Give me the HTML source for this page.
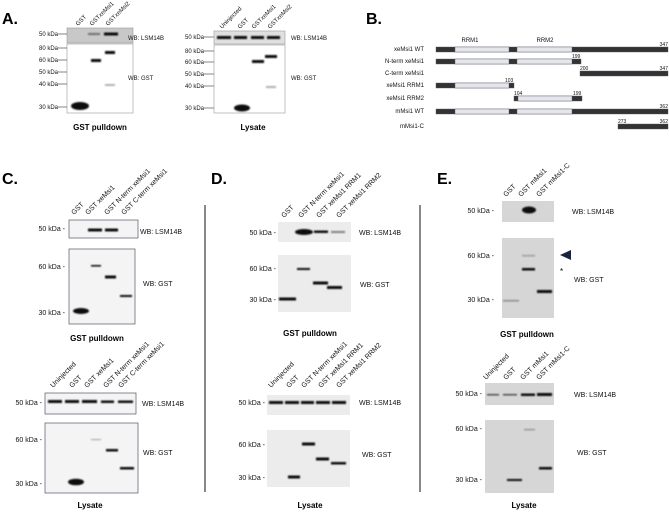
<!DOCTYPE html>
<html><head><meta charset="utf-8"><style>
html,body{margin:0;padding:0;background:#fff;}
svg{display:block;font-family:"Liberation Sans",Arial,sans-serif;}
.t{font-size:7px;fill:#111;}
.s{font-size:6px;fill:#111;}
.r{font-size:7px;fill:#111;}
.h{font-size:16px;font-weight:bold;fill:#000;}
.b{font-size:8px;font-weight:bold;fill:#000;}
.n{font-size:5px;fill:#111;}
</style></head><body>
<svg width="669" height="514" viewBox="0 0 669 514" xmlns="http://www.w3.org/2000/svg">
<defs><filter id="bl" x="-30%" y="-100%" width="160%" height="300%"><feGaussianBlur stdDeviation="0.7"/></filter></defs>

<!-- A -->
<text class="h" x="2" y="24">A.</text>
<g class="s">
<text transform="translate(78,26) rotate(-45)">GST</text>
<text transform="translate(92,26) rotate(-45)">GSTxeMsi1</text>
<text transform="translate(108,26) rotate(-45)">GSTxeMsi2</text>
<text transform="translate(222,29) rotate(-45)">Uninjected</text>
<text transform="translate(240,29) rotate(-45)">GST</text>
<text transform="translate(254,29) rotate(-45)">GSTxeMsi1</text>
<text transform="translate(270,29) rotate(-45)">GSTxeMsi2</text>
</g>
<rect x="67" y="28" width="66" height="15" fill="#c8c8c8" stroke="#999" stroke-width="0.6"/>
<rect x="67" y="44" width="66" height="69" fill="#fff" stroke="#999" stroke-width="0.6"/>
<g class="s" text-anchor="end">
<text x="58" y="36">50 kDa</text><text x="58" y="50">80 kDa</text><text x="58" y="62">60 kDa</text><text x="58" y="74">50 kDa</text><text x="58" y="86">40 kDa</text><text x="58" y="109">30 kDa</text>
<text x="204" y="39">50 kDa</text><text x="204" y="53">80 kDa</text><text x="204" y="64">60 kDa</text><text x="204" y="76">50 kDa</text><text x="204" y="88">40 kDa</text><text x="204" y="110">30 kDa</text>
</g>
<g stroke="#333" stroke-width="0.6">
<line x1="58" y1="34" x2="67" y2="34"/><line x1="58" y1="48" x2="67" y2="48"/><line x1="58" y1="60" x2="67" y2="60"/><line x1="58" y1="72" x2="67" y2="72"/><line x1="58" y1="84" x2="67" y2="84"/><line x1="58" y1="107" x2="67" y2="107"/>
<line x1="204" y1="37" x2="214" y2="37"/><line x1="204" y1="51" x2="214" y2="51"/><line x1="204" y1="62" x2="214" y2="62"/><line x1="204" y1="74" x2="214" y2="74"/><line x1="204" y1="86" x2="214" y2="86"/><line x1="204" y1="108" x2="214" y2="108"/>
</g>
<g fill="#111" filter="url(#bl)">
<rect x="88" y="33" width="12" height="2" opacity="0.5"/>
<rect x="104" y="32.5" width="14" height="3"/>
<ellipse cx="80" cy="106" rx="9" ry="4"/>
<rect x="91" y="59" width="10" height="3"/>
<rect x="105" y="51" width="10" height="3"/>
<rect x="105" y="84" width="10" height="2" opacity="0.3"/>
</g>
<text class="s" x="128" y="40">WB: LSM14B</text>
<text class="s" x="128" y="80">WB: GST</text>
<text class="b" x="100" y="130" text-anchor="middle">GST pulldown</text>

<rect x="214" y="31" width="71" height="13" fill="#e0e0e0" stroke="#999" stroke-width="0.6"/>
<rect x="214" y="45" width="71" height="68" fill="#fff" stroke="#999" stroke-width="0.6"/>
<g fill="#111" filter="url(#bl)">
<rect x="217" y="36" width="14" height="3"/><rect x="234" y="36" width="13" height="3"/><rect x="251" y="36" width="13" height="3"/><rect x="267" y="36" width="13" height="3"/>
<ellipse cx="242" cy="108" rx="8" ry="3.5"/>
<rect x="252" y="60" width="12" height="3"/>
<rect x="265" y="55" width="12" height="3"/>
<rect x="266" y="86" width="10" height="2" opacity="0.35"/>
</g>
<text class="s" x="291" y="40">WB: LSM14B</text>
<text class="s" x="291" y="80">WB: GST</text>
<text class="b" x="253" y="130" text-anchor="middle">Lysate</text>

<!-- B -->
<text class="h" x="366" y="24">B.</text>
<g class="s" text-anchor="end">
<text x="424" y="51">xeMsi1 WT</text><text x="424" y="63">N-term xeMsi1</text><text x="424" y="75">C-term xeMsi1</text><text x="424" y="87">xeMsi1 RRM1</text><text x="424" y="100">xeMsi1 RRM2</text><text x="424" y="113">mMsi1 WT</text><text x="424" y="128">mMsi1-C</text>
</g>
<text class="s" x="470" y="42" text-anchor="middle">RRM1</text>
<text class="s" x="545" y="42" text-anchor="middle">RRM2</text>
<g stroke="#556" stroke-width="0.4">
<rect x="436" y="47" width="232" height="5" fill="#333"/>
<rect x="455" y="47" width="54" height="5" fill="#e4e6ea"/><rect x="517" y="47" width="55" height="5" fill="#e4e6ea"/>
<rect x="436" y="59" width="145" height="5" fill="#333"/>
<rect x="455" y="59" width="54" height="5" fill="#e4e6ea"/><rect x="517" y="59" width="55" height="5" fill="#e4e6ea"/>
<rect x="580" y="71" width="88" height="5" fill="#333"/>
<rect x="436" y="83" width="78" height="5" fill="#333"/>
<rect x="455" y="83" width="54" height="5" fill="#e4e6ea"/>
<rect x="514" y="96" width="68" height="5" fill="#333"/>
<rect x="518" y="96" width="54" height="5" fill="#e4e6ea"/>
<rect x="436" y="109" width="232" height="5" fill="#333"/>
<rect x="455" y="109" width="54" height="5" fill="#e4e6ea"/><rect x="517" y="109" width="55" height="5" fill="#e4e6ea"/>
<rect x="618" y="124" width="50" height="5" fill="#333"/>
</g>
<g class="n">
<text x="668" y="46" text-anchor="end">347</text>
<text x="572" y="58">199</text>
<text x="580" y="70">200</text><text x="668" y="70" text-anchor="end">347</text>
<text x="505" y="82">103</text>
<text x="514" y="95">104</text><text x="573" y="95">199</text>
<text x="668" y="108" text-anchor="end">362</text>
<text x="618" y="123">273</text><text x="668" y="123" text-anchor="end">362</text>
</g>

<!-- dividers -->
<line x1="205" y1="205" x2="205" y2="492" stroke="#111" stroke-width="1"/>
<line x1="420" y1="205" x2="420" y2="492" stroke="#111" stroke-width="1"/>

<!-- C -->
<text class="h" x="2" y="184">C.</text>
<g class="r">
<text transform="translate(74,215) rotate(-45)">GST</text>
<text transform="translate(88,215) rotate(-45)">GST xeMsi1</text>
<text transform="translate(107,215) rotate(-45)">GST N-term xeMsi1</text>
<text transform="translate(124,215) rotate(-45)">GST C-term xeMsi1</text>
<text transform="translate(53,388) rotate(-45)">Uninjected</text>
<text transform="translate(72,388) rotate(-45)">GST</text>
<text transform="translate(87,388) rotate(-45)">GST xeMsi1</text>
<text transform="translate(106,388) rotate(-45)">GST N-term xeMsi1</text>
<text transform="translate(121,388) rotate(-45)">GST C-term xeMsi1</text>
</g>
<g fill="#f4f4f4" stroke="#556" stroke-width="0.7">
<rect x="69" y="220" width="69" height="18"/>
<rect x="69" y="249" width="66" height="75"/>
<rect x="45" y="393" width="91" height="21"/>
<rect x="45" y="423" width="93" height="70"/>
</g>
<g class="t" text-anchor="end">
<text x="65" y="231">50 kDa -</text><text x="65" y="269">60 kDa -</text><text x="65" y="315">30 kDa -</text>
<text x="42" y="405">50 kDa -</text><text x="42" y="442">60 kDa -</text><text x="42" y="486">30 kDa -</text>
</g>
<g fill="#111" filter="url(#bl)">
<rect x="88" y="228.5" width="14" height="3"/><rect x="105" y="228.5" width="13" height="3"/>
<rect x="91" y="265" width="10" height="1.6"/>
<rect x="105" y="275.5" width="11" height="3"/>
<ellipse cx="81" cy="311" rx="8" ry="3"/>
<rect x="120" y="295" width="12" height="2"/>
<rect x="48" y="400" width="14" height="3"/><rect x="65" y="400" width="14" height="3"/><rect x="82" y="400" width="15" height="3"/><rect x="101" y="400.5" width="13" height="2.5"/><rect x="118" y="400.5" width="15" height="2.5"/>
<ellipse cx="76" cy="482" rx="8" ry="3.3"/>
<rect x="91" y="439" width="10" height="1.2" opacity="0.3"/>
<rect x="106" y="449" width="12" height="2.5"/>
<rect x="120" y="467" width="14" height="2.5"/>
</g>
<text class="t" x="140" y="234">WB: LSM14B</text>
<text class="t" x="143" y="286">WB: GST</text>
<text class="b" x="97" y="341" text-anchor="middle">GST pulldown</text>
<text class="t" x="142" y="406">WB: LSM14B</text>
<text class="t" x="143" y="455">WB: GST</text>
<text class="b" x="90" y="508" text-anchor="middle">Lysate</text>

<!-- D -->
<text class="h" x="211" y="184">D.</text>
<g class="r">
<text transform="translate(284,218) rotate(-45)">GST</text>
<text transform="translate(301,218) rotate(-45)">GST N-term xeMsi1</text>
<text transform="translate(319,218) rotate(-45)">GST xeMsi1 RRM1</text>
<text transform="translate(339,218) rotate(-45)">GST xeMsi1 RRM2</text>
<text transform="translate(271,388) rotate(-45)">Uninjected</text>
<text transform="translate(289,388) rotate(-45)">GST</text>
<text transform="translate(304,388) rotate(-45)">GST N-term xeMsi1</text>
<text transform="translate(321,388) rotate(-45)">GST xeMsi1 RRM1</text>
<text transform="translate(339,388) rotate(-45)">GST xeMsi1 RRM2</text>
</g>
<g fill="#ececec">
<rect x="278" y="222" width="73" height="20"/>
<rect x="278" y="255" width="73" height="57"/>
<rect x="267" y="395" width="83" height="20"/>
<rect x="267" y="430" width="83" height="57"/>
</g>
<g class="t" text-anchor="end">
<text x="276" y="235">50 kDa -</text><text x="276" y="271">60 kDa -</text><text x="276" y="302">30 kDa -</text>
<text x="265" y="405">50 kDa -</text><text x="265" y="447">60 kDa -</text><text x="265" y="480">30 kDa -</text>
</g>
<g fill="#111" filter="url(#bl)">
<ellipse cx="304" cy="232" rx="9" ry="3"/>
<rect x="314" y="230.5" width="14" height="2.5"/>
<rect x="331" y="231" width="14" height="2" opacity="0.5"/>
<rect x="279" y="297.5" width="17" height="3"/>
<rect x="297" y="268" width="13" height="2"/>
<rect x="313" y="281.5" width="15" height="3"/>
<rect x="327" y="286" width="15" height="3"/>
<rect x="269" y="401" width="14" height="3"/><rect x="285" y="401" width="14" height="3"/><rect x="301" y="401" width="13" height="3"/><rect x="316" y="401" width="14" height="3"/><rect x="332" y="401" width="14" height="3"/>
<rect x="288" y="475.5" width="12" height="3"/>
<rect x="302" y="442.5" width="13" height="3"/>
<rect x="316" y="457.5" width="13" height="3"/>
<rect x="331" y="462" width="15" height="2.5"/>
</g>
<text class="t" x="359" y="235">WB: LSM14B</text>
<text class="t" x="360" y="287">WB: GST</text>
<text class="b" x="310" y="336" text-anchor="middle">GST pulldown</text>
<text class="t" x="359" y="405">WB: LSM14B</text>
<text class="t" x="362" y="457">WB: GST</text>
<text class="b" x="310" y="508" text-anchor="middle">Lysate</text>

<!-- E -->
<text class="h" x="437" y="184">E.</text>
<g class="r">
<text transform="translate(506,197) rotate(-45)">GST</text>
<text transform="translate(521,197) rotate(-45)">GST mMsi1</text>
<text transform="translate(539,197) rotate(-45)">GST mMsi1-C</text>
<text transform="translate(486,380) rotate(-45)">Uninjected</text>
<text transform="translate(506,380) rotate(-45)">GST</text>
<text transform="translate(523,380) rotate(-45)">GST mMsi1</text>
<text transform="translate(539,380) rotate(-45)">GST mMsi1-C</text>
</g>
<g fill="#d6d6d6">
<rect x="502" y="201" width="52" height="21"/>
<rect x="502" y="238" width="52" height="80"/>
<rect x="485" y="383" width="69" height="22"/>
<rect x="485" y="420" width="69" height="73"/>
</g>
<g class="t" text-anchor="end">
<text x="494" y="213">50 kDa -</text><text x="494" y="258">60 kDa -</text><text x="494" y="302">30 kDa -</text>
<text x="482" y="396">50 kDa -</text><text x="482" y="431">60 kDa -</text><text x="482" y="482">30 kDa -</text>
</g>
<g fill="#111" filter="url(#bl)">
<ellipse cx="529" cy="210" rx="7" ry="3.5"/>
<rect x="503" y="300" width="16" height="1.5" opacity="0.4"/>
<rect x="522" y="255" width="13" height="1.3" opacity="0.35"/>
<rect x="522" y="268" width="13" height="2.5"/>
<rect x="537" y="290" width="15" height="3"/>
<rect x="487" y="394" width="12" height="1.5" opacity="0.7"/><rect x="503" y="394" width="14" height="1.5" opacity="0.7"/><rect x="521" y="393.5" width="14" height="2.5"/><rect x="537" y="393" width="15" height="3"/>
<rect x="507" y="479" width="15" height="2"/>
<rect x="524" y="429" width="11" height="1.2" opacity="0.4"/>
<rect x="539" y="467" width="13" height="2.5"/>
</g>
<polygon points="560,255 571,250 571,260" fill="#1a2240"/>
<text x="560" y="274" style="font-size:8px">*</text>
<text class="t" x="572" y="214">WB: LSM14B</text>
<text class="t" x="574" y="282">WB: GST</text>
<text class="b" x="527" y="337" text-anchor="middle">GST pulldown</text>
<text class="t" x="574" y="397">WB: LSM14B</text>
<text class="t" x="577" y="455">WB: GST</text>
<text class="b" x="524" y="508" text-anchor="middle">Lysate</text>
</svg>
</body></html>
